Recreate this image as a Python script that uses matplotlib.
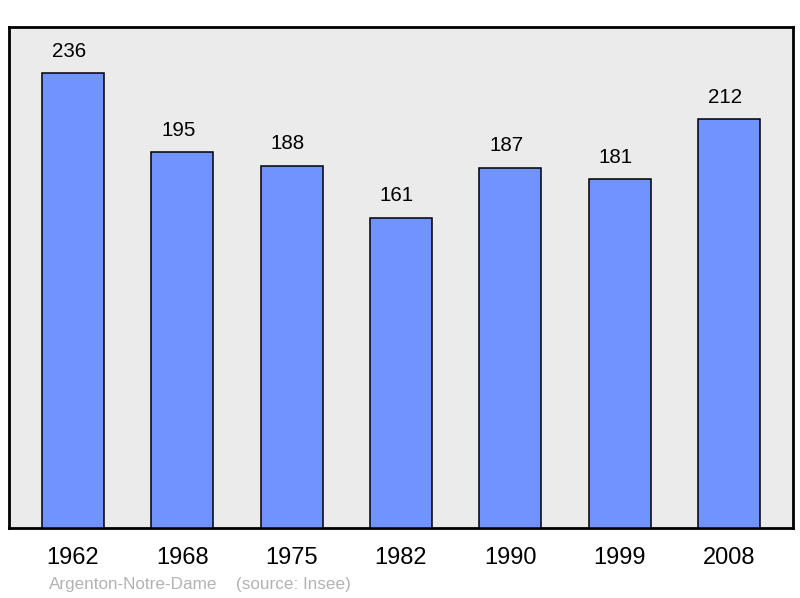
import matplotlib.pyplot as plt

plt.rcParams['font.family'] = ['Liberation Sans', 'DejaVu Sans']

# Population data
years = ["1962", "1968", "1975", "1982", "1990", "1999", "2008"]
population = [236, 195, 188, 161, 187, 181, 212]
commune = "Argenton-Notre-Dame"
source = "(source: Insee)"

fig = plt.figure(figsize=(8, 5.98), dpi=100)
ax = fig.add_axes([9 / 800, 70 / 598, 784 / 800, 501 / 598])
ax.set_facecolor("#ebebeb")

x = list(range(len(years)))
ax.bar(x, population, width=0.566, color="#7093ff", edgecolor="black", linewidth=1.1, zorder=3)
for xi, v in zip(x, population):
    # labels sit a little left of the bar centre in the original
    ax.text(xi - 0.037, v + 11.5, str(v), ha="center", va="center", fontsize=14.8)

ax.set_xlim(-0.584, 6.584)
ax.set_ylim(0, 260)
ax.set_xticks(x)
ax.set_xticklabels(years, fontsize=17)
ax.tick_params(axis="x", length=0, pad=14)
ax.set_yticks([])
for s in ax.spines.values():
    s.set_linewidth(2)

fig.text(49 / 800, 1 - 584 / 598, commune, color="#b3b3b3", fontsize=12.3, va="center")
fig.text(236 / 800, 1 - 584 / 598, source, color="#b3b3b3", fontsize=12.3, va="center")

fig.savefig("out.png", dpi=100)
